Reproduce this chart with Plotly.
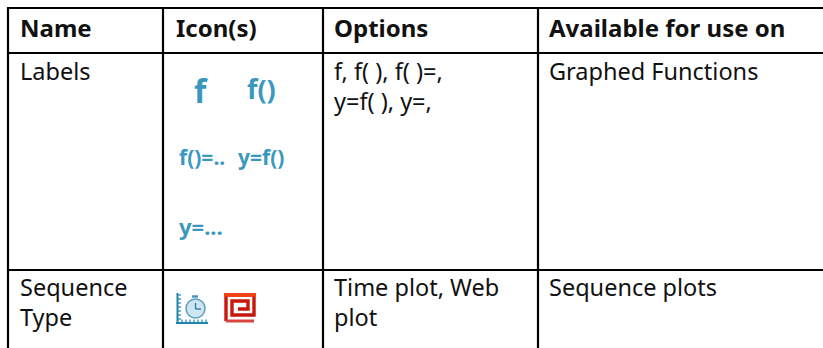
import plotly.graph_objects as go

W, H = 823, 348
FONT = "Noto Sans"
INK = "#111111"
BLUE = "#3a98bf"

# Table content
headers = ["Name", "Icon(s)", "Options", "Available for use on"]
names = [["Labels"], ["Sequence", "Type"]]
options = [["f, f( ), f( )=,", "y=f( ), y=,"], ["Time plot, Web", "plot"]]
available = [["Graphed Functions"], ["Sequence plots"]]
label_icons = ["f", "f()", "f()=..", "y=f()", "y=..."]

# Layout geometry, in page pixels
col_lines = [8, 163, 323, 538]
row_lines = [8, 53, 270]
col_text = [19, 175, 333, 548]
header_y = 27
row_y = [[71, 101], [287, 317]]
icon_pos = [(201, 90, 32), (261, 88, 27), (202, 157, 21), (261, 157, 21), (201, 226, 22)]

fig = go.Figure()
shapes, ann = [], []

def text(x, y, s, size=23.5, color=INK, bold=False, anchor="left"):
    ann.append(dict(x=x, y=y, xref="x", yref="y", text=f"<b>{s}</b>" if bold else s, showarrow=False,
                    xanchor=anchor, yanchor="middle", align="left", borderpad=0,
                    font=dict(family=FONT, size=size, color=color)))

def line(x0, y0, x1, y1, color="#000000", w=2.2):
    shapes.append(dict(type="line", x0=x0, y0=y0, x1=x1, y1=y1, xref="x", yref="y",
                       line=dict(color=color, width=w), layer="above"))

for y in row_lines:
    line(col_lines[0] - 1, y, W, y)
for x in col_lines:
    line(x, row_lines[0], x, H)

for x, s in zip(col_text, headers):
    text(x, header_y, s, bold=True, size=24)

for r in range(2):
    for i, s in enumerate(names[r]):
        text(col_text[0], row_y[r][i], s)
    for i, s in enumerate(options[r]):
        text(col_text[2], row_y[r][i], s)
    for i, s in enumerate(available[r]):
        text(col_text[3], row_y[r][i], s)

for (x, y, size), s in zip(icon_pos, label_icons):
    text(x, y, s, size=size, color=BLUE, anchor="center", bold=True)

# Time-plot icon
AX = "#1f84ad"
line(177.5, 293, 177.5, 324, AX, 2)
line(176, 323, 208, 323, AX, 2)
for t in range(295, 321, 4):
    line(177, t, 181, t, AX, 1.2)
for t in range(182, 208, 4):
    line(t, 319.5, t, 323, AX, 1.2)
shapes.append(dict(type="circle", x0=186, y0=299, x1=205, y1=318, xref="x", yref="y", layer="above",
                   fillcolor="#cfe5f1", line=dict(color="#5a9fc0", width=1.5)))
line(192, 296.5, 198, 296.5, "#4f97ba", 2.5)
line(195.5, 303, 195.5, 309, "#2a7fa8", 1.4)
line(195.5, 309, 201, 309, "#2a7fa8", 1.4)

# Web-plot icon
spiral = [(226, 321), (226, 295), (254, 295), (254, 315), (232, 315), (232, 301), (248, 301), (248, 309), (238, 309)]
path = "M " + " L ".join(f"{a},{b}" for a, b in spiral)
shapes.append(dict(type="path", path=path, xref="x", yref="y", layer="above", line=dict(color="#c8180c", width=3.4)))
line(224, 295, 256, 295, "#f5420f", 3.4)
line(226, 321, 254, 321, "#d9453a", 3)

fig.update_layout(width=W, height=H, margin=dict(l=0, r=0, t=0, b=0), paper_bgcolor="white", plot_bgcolor="white",
                  shapes=shapes, annotations=ann, showlegend=False,
                  xaxis=dict(range=[0, W], visible=False, fixedrange=True),
                  yaxis=dict(range=[H, 0], visible=False, fixedrange=True))
fig.write_html("out.html", config=dict(displayModeBar=False),
               post_script="document.body.style.margin='0';document.body.style.overflow='hidden';")
